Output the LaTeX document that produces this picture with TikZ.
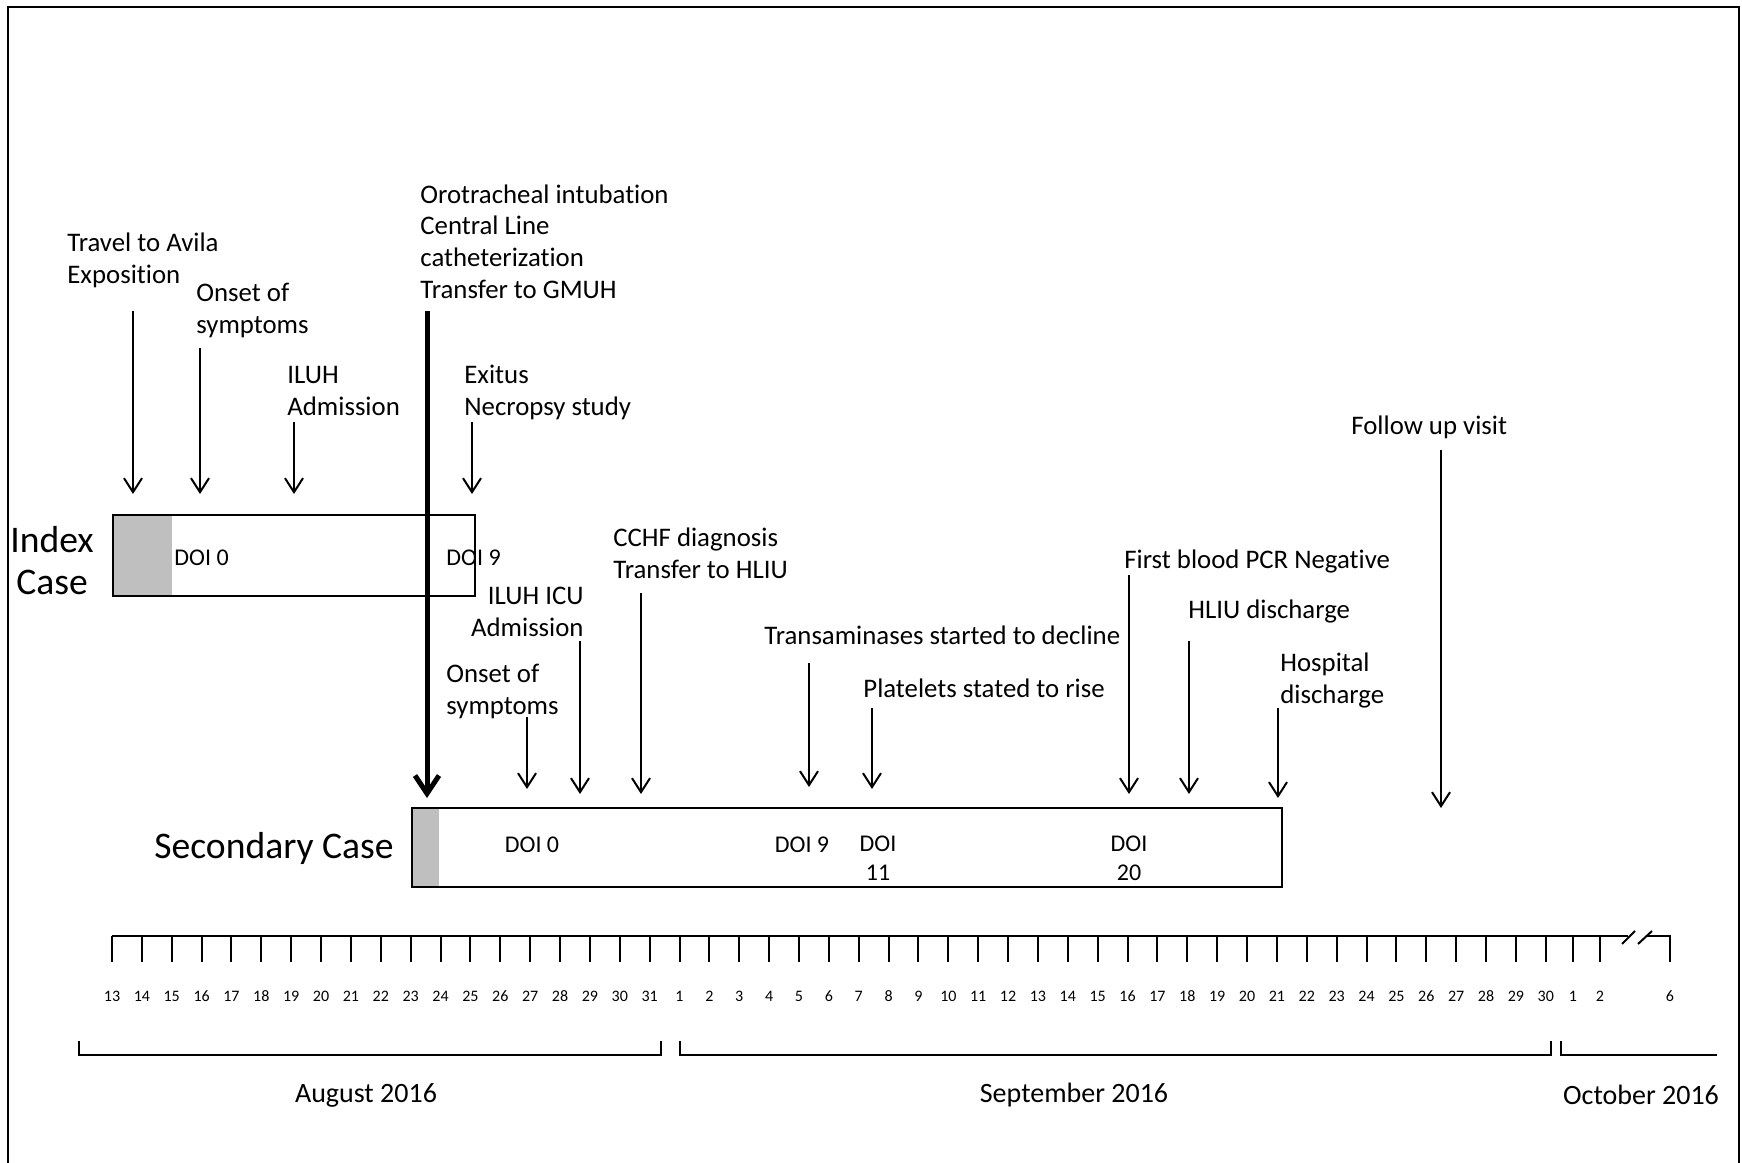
\documentclass[tikz,border=0pt]{standalone}
\usepackage{fontspec}
\setmainfont{Carlito}[Ligatures=NoCommon]
\usetikzlibrary{arrows.meta}
\definecolor{onsetgray}{RGB}{191,191,191}

\begin{document}
\begin{tikzpicture}[
  x=0.5pt, y=-0.5pt,
  >={Straight Barb[length=7pt,width=9pt]},
  ev/.style={font=\fontsize{13.4}{15.8}\selectfont, align=left,
    anchor=base west, inner sep=0pt},
  evarrow/.style={->, line width=1pt},
  mainarrow/.style={-{Straight Barb[length=9pt,width=12pt]}, line width=2.5pt},
  casebox/.style={draw, line width=1pt, anchor=north west, inner sep=0pt},
  casename/.style={font=\fontsize{18.8}{21}\selectfont, align=center, inner sep=0pt},
  doi/.style={font=\fontsize{12}{14.5}\selectfont, align=center, inner sep=0pt},
  daylab/.style={font=\fontsize{8}{9}\selectfont, inner sep=0pt},
  month/.style={font=\fontsize{14}{16}\selectfont, inner sep=0pt}]

  \useasboundingbox (0,0) rectangle (1742,1163);
  \draw[line width=1pt] (8,1163) -- (8,7) -- (1739,7) -- (1739,1163);

  % index case
  \fill[onsetgray] (112,514) rectangle (172,595);
  \node[casebox, minimum width=181pt, minimum height=40.5pt] (idx) at (112,514) {};
  \node[casename] (idxname) at (52,561) {Index\\Case};
  \node[doi, anchor=base west] (idx0) at (174,565) {DOI 0};
  \node[doi, anchor=base west] (idx9) at (446,565) {DOI 9};

  % secondary case
  \fill[onsetgray] (411,807) rectangle (439,886);
  \node[casebox, minimum width=435pt, minimum height=39.5pt] (sec) at (411,807) {};
  \node[casename, anchor=east] (secname) at (394,848) {Secondary Case};
  \node[doi] (sec0) at (532,845) {DOI 0};
  \node[doi] (sec9) at (802,845) {DOI 9};
  \node[doi, anchor=north] (sec11) at (878,836) {DOI\\11};
  \node[doi, anchor=north] (sec20) at (1129,836) {DOI\\20};

  % events (base = last line)
  \node[ev] (travel) at (67,283) {Travel to Avila\\Exposition};
  \node[ev] (onsetidx) at (196,333) {Onset of\\symptoms};
  \node[ev] (iluh) at (287,415) {ILUH\\Admission};
  \node[ev] (exitus) at (464,415) {Exitus\\Necropsy study};
  \node[ev] (intub) at (420,298) {Orotracheal intubation\\Central Line\\catheterization\\Transfer to GMUH};
  \node[ev] (onsetsec) at (446,714) {Onset of\\symptoms};
  \node[ev, align=right, anchor=base east] (icu) at (584,636) {ILUH ICU\\Admission};
  \node[ev] (cchf) at (613,578) {CCHF diagnosis\\Transfer to HLIU};
  \node[ev] (transam) at (764,644) {Transaminases started to decline};
  \node[ev] (platelets) at (863,697) {Platelets stated to rise};
  \node[ev] (pcr) at (1124,568) {First blood PCR Negative};
  \node[ev] (hliu) at (1188,618) {HLIU discharge};
  \node[ev] (hosp) at (1280,703) {Hospital\\discharge};
  \node[ev] (follow) at (1351,434) {Follow up visit};

  \foreach \nm/\x/\ya/\yb in {travel/133/311/494, onsetidx/200/348/494,
      iluh/294/422/494, exitus/472/422/494, onsetsec/527/717/789,
      icu/580/641/794, cchf/641/593/794, transam/809/663/787,
      platelets/872/708/789, pcr/1129/575/794, hliu/1189/641/794,
      hosp/1278/708/798, follow/1441/450/808}{
    \coordinate (\nm A) at (\x,\ya);
    \coordinate (\nm B) at (\x,\yb);
    \draw[evarrow] (\nm A) -- (\nm B);
  }
  \coordinate (intubA) at (427,311);
  \coordinate (intubB) at (427,798);
  \draw[mainarrow] (intubA) -- (intubB);

  % time axis
  \draw[line width=1pt] (112,936) -- (1628,936);
  \draw[line width=1pt] (1646,936) -- (1670,936) -- (1670,962);
  \draw[line width=1pt] (1622,944) -- (1635,931);
  \draw[line width=1pt] (1638,944) -- (1652,931);
  \foreach \d [evaluate=\d as \x using 112+(\d-13)*29.87] in {13,...,31}{
    \draw[line width=1pt] (\x,936) -- (\x,962);
    \node[daylab] (aug\d) at (\x,996) {\d};
  }
  \foreach \d [evaluate=\d as \x using 112+(\d+18)*29.87] in {1,...,30}{
    \draw[line width=1pt] (\x,936) -- (\x,962);
    \node[daylab] (sep\d) at (\x,996) {\d};
  }
  \foreach \d/\x in {1/1573, 2/1600, 6/1670}{
    \draw[line width=1pt] (\x,936) -- (\x,962);
    \node[daylab] (oct\d) at (\x,996) {\d};
  }

  % months
  \draw[line width=1pt] (79,1041) -- (79,1055) -- (661,1055) -- (661,1041);
  \draw[line width=1pt] (680,1041) -- (680,1055) -- (1551,1055) -- (1551,1041);
  \draw[line width=1pt] (1561,1041) -- (1561,1055) -- (1717,1055);
  \node[month] (aug) at (366,1095) {August 2016};
  \node[month] (sep) at (1074,1095) {September 2016};
  \node[month] (oct) at (1641,1095) {October 2016};
\end{tikzpicture}
\end{document}
